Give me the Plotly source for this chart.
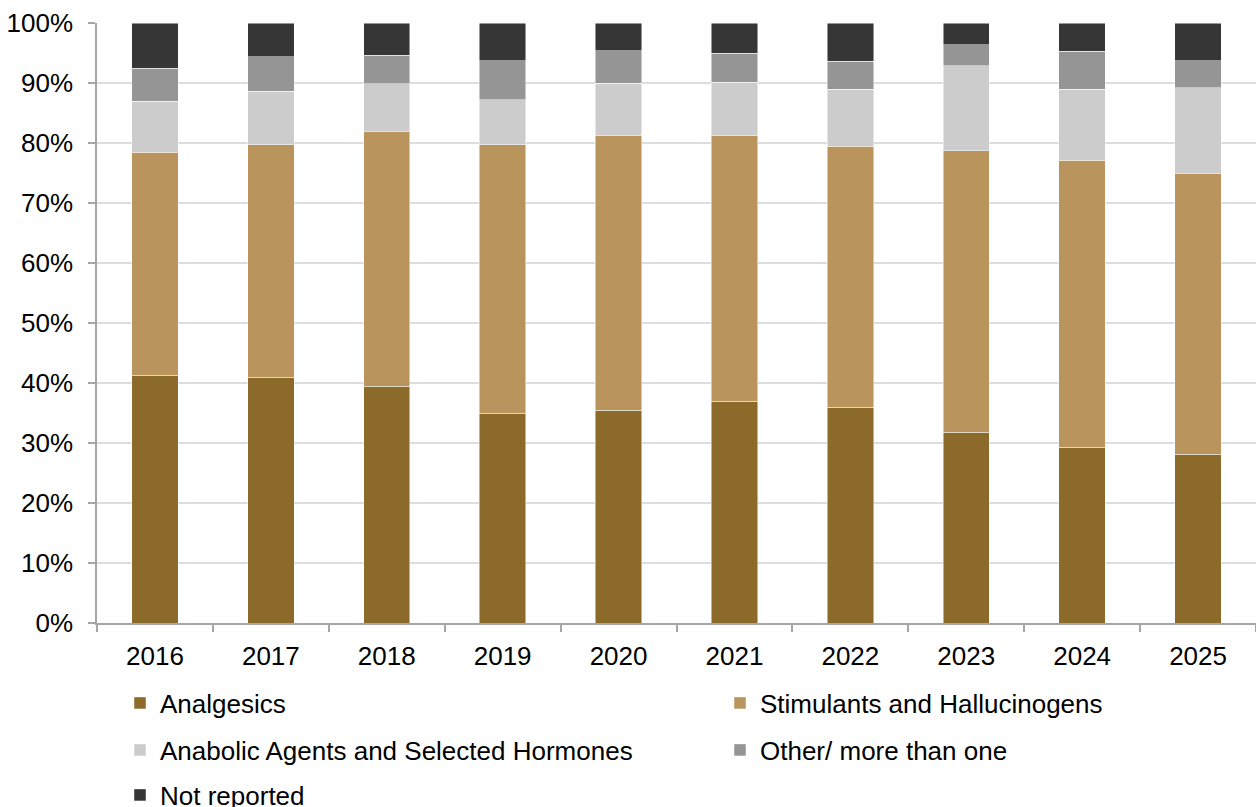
import plotly.graph_objects as go

years = ["2016", "2017", "2018", "2019", "2020", "2021", "2022", "2023", "2024", "2025"]

analgesics = [41.3, 41.0, 39.5, 35.0, 35.5, 37.0, 36.0, 31.8, 29.3, 28.1]
stimulants = [37.2, 38.7, 42.5, 44.7, 45.8, 44.2, 43.5, 46.9, 47.8, 46.9]
anabolic = [8.5, 8.9, 7.9, 7.5, 8.7, 8.9, 9.5, 14.2, 11.9, 14.2]
other = [5.5, 5.8, 4.7, 6.5, 5.4, 4.9, 4.6, 3.5, 6.3, 4.5]
not_reported = [7.5, 5.6, 5.4, 6.3, 4.6, 5.0, 6.4, 3.6, 4.7, 6.3]

series = [
    ("Analgesics", analgesics, "#8B6A2A", "legend"),
    ("Stimulants and Hallucinogens", stimulants, "#BA945D", "legend2"),
    ("Anabolic Agents and Selected Hormones", anabolic, "#CCCCCC", "legend3"),
    ("Other/ more than one", other, "#959595", "legend4"),
    ("Not reported", not_reported, "#363636", "legend5"),
]

FONT = "Liberation Sans, Arial, sans-serif"
W, H = 1256, 807

fig = go.Figure()
for name, vals, color, leg in series:
    fig.add_trace(go.Bar(
        x=years, y=vals, name=name, showlegend=True,
        marker=dict(color=color, line=dict(color="rgba(255,255,255,0.6)", width=0.8)),
        legend=leg,
    ))

# one legend box per entry so the entries sit in a two-column grid
def legend_box(px, py):
    return dict(x=px / W, y=1 - py / H, xref="container", yref="container",
                xanchor="left", yanchor="middle", orientation="h",
                font=dict(family=FONT, size=26, color="#000000"),
                bgcolor="rgba(0,0,0,0)", borderwidth=0, itemwidth=30, visible=True)

col1, col2 = 120, 720
row1, row2, row3 = 703, 750, 795

fig.update_layout(
    barmode="stack",
    bargap=0.6,
    width=W, height=H,
    margin=dict(l=97, r=0, t=23, b=184),
    paper_bgcolor="white", plot_bgcolor="white",
    font=dict(family=FONT, size=26, color="#000000"),
    showlegend=True,
    legend=legend_box(col1, row1),
    legend2=legend_box(col2, row1),
    legend3=legend_box(col1, row2),
    legend4=legend_box(col2, row2),
    legend5=legend_box(col1, row3),
    xaxis=dict(
        showline=True, linecolor="#A6A6A6", linewidth=1.5,
        ticks="outside", tickson="boundaries", ticklen=7, tickcolor="#A6A6A6", tickwidth=1.5,
        tickfont=dict(family=FONT, size=26, color="#000000"),
        ticklabelstandoff=9,
    ),
    yaxis=dict(
        range=[0, 100], dtick=10, ticksuffix="%",
        showline=True, linecolor="#A6A6A6", linewidth=1.5,
        ticks="outside", ticklen=7, tickcolor="#A6A6A6", tickwidth=1.5,
        gridcolor="#DDDDDD", gridwidth=2,
        tickfont=dict(family=FONT, size=26, color="#000000"),
        ticklabelstandoff=10,
        zeroline=False,
    ),
)

fig.write_html("out.html")
